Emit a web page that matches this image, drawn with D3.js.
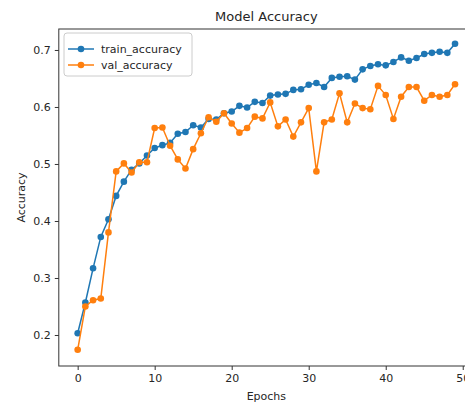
<!DOCTYPE html>
<html><head><meta charset="utf-8">
<script src="https://cdn.jsdelivr.net/npm/d3@7"></script>
<style>body{margin:0;background:#fff}svg{display:block}text{font-family:"DejaVu Sans",sans-serif;fill:#262626}</style>
</head><body>
<script>
const epochs = d3.range(50);
const trainAccuracy = [0.203,0.257,0.317,0.372,0.403,0.444,0.469,0.490,0.501,0.515,
0.528,0.533,0.537,0.553,0.556,0.568,0.564,0.579,0.578,0.589,
0.592,0.602,0.599,0.609,0.607,0.620,0.622,0.623,0.630,0.631,
0.639,0.642,0.635,0.651,0.653,0.654,0.648,0.666,0.672,0.675,
0.673,0.679,0.687,0.681,0.686,0.693,0.695,0.697,0.695,0.711];
const valAccuracy = [0.174,0.250,0.261,0.264,0.380,0.487,0.501,0.485,0.503,0.503,
0.563,0.564,0.532,0.508,0.492,0.526,0.554,0.582,0.574,0.589,
0.571,0.555,0.563,0.583,0.580,0.608,0.566,0.578,0.548,0.573,
0.598,0.487,0.573,0.578,0.624,0.573,0.606,0.598,0.596,0.637,
0.621,0.579,0.618,0.635,0.635,0.611,0.621,0.618,0.621,0.640];
const xTicks = [0,10,20,30,40,50];
const yTicks = [0.2,0.3,0.4,0.5,0.6,0.7];
const seriesNames = ["train_accuracy","val_accuracy"];
const colors = ["#1f77b4","#ff7f0e"];

const W=465,H=403;
const L=58.8,R=473.9,T=29,B=366;
const svg=d3.select("body").append("svg").attr("width",W).attr("height",H);
const x=d3.scaleLinear().domain([-2.45,51.45]).range([L,R]);
const y=d3.scaleLinear().domain([0.1456,0.7368]).range([B,T]);

const gx=svg.append("g").attr("transform",`translate(0,${B})`)
  .call(d3.axisBottom(x).tickValues(xTicks).tickFormat(d3.format("d")).tickSize(4).tickPadding(4));
const gy=svg.append("g").attr("transform",`translate(${L},0)`)
  .call(d3.axisLeft(y).tickValues(yTicks).tickFormat(d3.format(".1f")).tickSize(4).tickPadding(4));
[gx,gy].forEach(g=>{g.select(".domain").remove();g.selectAll("line").attr("stroke","#333");g.selectAll("text").attr("font-size",11).attr("fill","#262626").style("font-family","DejaVu Sans");});

svg.append("rect").attr("x",L).attr("y",T).attr("width",R-L).attr("height",B-T)
  .attr("fill","none").attr("stroke","#333").attr("stroke-width",1);

const series=[trainAccuracy,valAccuracy];
series.forEach((vals,i)=>{
  const line=d3.line().x((d,j)=>x(epochs[j])).y(d=>y(d));
  svg.append("path").datum(vals).attr("d",line).attr("fill","none").attr("stroke",colors[i]).attr("stroke-width",1.5);
  svg.append("g").selectAll("circle").data(vals).join("circle")
    .attr("cx",(d,j)=>x(epochs[j])).attr("cy",d=>y(d)).attr("r",3.3).attr("fill",colors[i]);
});

svg.append("text").attr("x",(L+R)/2).attr("y",21).attr("text-anchor","middle").attr("font-size",13).text("Model Accuracy");
svg.append("text").attr("x",(L+R)/2).attr("y",400).attr("text-anchor","middle").attr("font-size",11).text("Epochs");
svg.append("text").attr("transform",`translate(25,${(T+B)/2}) rotate(-90)`).attr("text-anchor","middle").attr("font-size",11).text("Accuracy");

const lg=svg.append("g");
lg.append("rect").attr("x",64).attr("y",33).attr("width",128).attr("height",43).attr("rx",3)
  .attr("fill","#fff").attr("fill-opacity",0.8).attr("stroke","#ccc");
seriesNames.forEach((n,i)=>{
  const yy=49+i*16;
  lg.append("line").attr("x1",68).attr("x2",94).attr("y1",yy).attr("y2",yy).attr("stroke",colors[i]).attr("stroke-width",1.5);
  lg.append("circle").attr("cx",81).attr("cy",yy).attr("r",3.3).attr("fill",colors[i]);
  lg.append("text").attr("x",101).attr("y",yy+4).attr("font-size",11).text(n);
});
</script>
</body></html>
